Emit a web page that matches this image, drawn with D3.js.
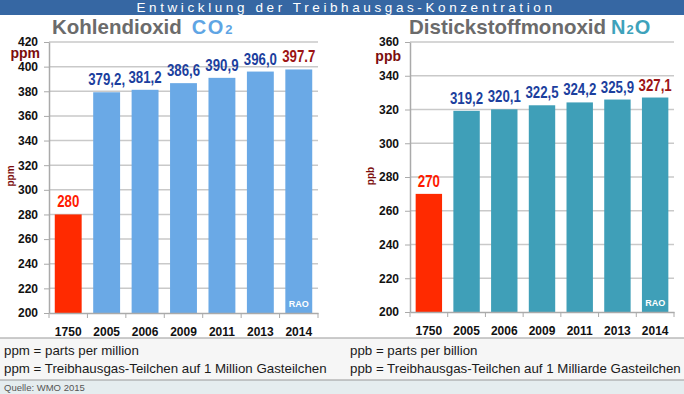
<!DOCTYPE html>
<html>
<head>
<meta charset="utf-8">
<script src="https://cdn.jsdelivr.net/npm/d3@7"></script>
<style>
  html, body { margin: 0; padding: 0; background: #fff; }
  svg { display: block; font-family: "Liberation Sans", Arial, sans-serif; }
</style>
</head>
<body>
<script>
var years = ["1750", "2005", "2006", "2009", "2011", "2013", "2014"];
var co2Values = [280, 379.2, 381.2, 386.6, 390.9, 396.0, 397.7];
var co2Labels = ["280", "379,2,", "381,2", "386,6", "390,9", "396,0", "397.7"];
var co2Ticks = [200, 220, 240, 260, 280, 300, 320, 340, 360, 380, 400, 420];
var n2oValues = [270, 319.2, 320.1, 322.5, 324.2, 325.9, 327.1];
var n2oLabels = ["270", "319,2", "320,1", "322,5", "324,2", "325,9", "327,1"];
var n2oTicks = [200, 220, 240, 260, 280, 300, 320, 340, 360];

var w = 684, h = 394;
var svg = d3.select("body").append("svg").attr("width", w).attr("height", h);

// header bar
svg.append("rect").attr("x", 0).attr("y", 0).attr("width", w).attr("height", 15).attr("fill", "#3667a3");
svg.append("text").attr("x", w / 2 + 4).attr("y", 12).attr("text-anchor", "middle")
  .attr("fill", "#fff").attr("font-size", 13.5).attr("letter-spacing", 3.6)
  .text("Entwicklung der Treibhausgas-Konzentration");

function drawChart(c) {
  var x = d3.scaleBand().domain(years).range([c.x0, c.x1]).paddingInner(0.3).paddingOuter(0.15);
  var y = d3.scaleLinear().domain(c.domain).range([c.yb, c.yt]);
  var g = svg.append("g");

  // gridlines
  g.selectAll(".grid").data(c.ticks.slice(1)).enter().append("line")
    .attr("x1", c.x0).attr("x2", c.x1)
    .attr("y1", d => y(d)).attr("y2", d => y(d))
    .attr("stroke", "#c9c9c9").attr("stroke-width", 1.5);

  // bars
  g.selectAll(".bar").data(c.values).enter().append("rect")
    .attr("x", (d, i) => x(years[i]))
    .attr("width", x.bandwidth())
    .attr("y", d => y(d))
    .attr("height", d => c.yb - y(d))
    .attr("fill", (d, i) => i == 0 ? "#ff2a00" : c.color);

  // value labels (condensed)
  g.selectAll(".lbl").data(c.labels).enter().append("text")
    .attr("transform", (d, i) => "translate(" + (x(years[i]) + x.bandwidth() / 2) + "," + (y(c.values[i]) - 7) + ") scale(0.78,1)")
    .attr("text-anchor", "middle")
    .attr("font-weight", "bold").attr("font-size", 17)
    .attr("fill", (d, i) => i == 0 ? "#ff1a00" : (i == years.length - 1 ? "#9c1414" : "#1c3f9e"))
    .text(d => d);

  // axes
  var ya = d3.axisLeft(y).tickValues(c.ticks).tickSize(5).tickPadding(6).tickSizeOuter(0);
  var yg = g.append("g").attr("transform", "translate(" + c.x0 + ",0)").call(ya);
  yg.select(".domain").attr("stroke", "#aaa").attr("stroke-width", 1.5);
  yg.selectAll(".tick line").attr("stroke", "#aaa");
  yg.selectAll("text").attr("font-size", 12).attr("font-weight", "bold").attr("fill", "#111")
    .attr("font-family", "'Liberation Sans', Arial, sans-serif");

  var xa = d3.axisBottom(x).tickSize(0).tickPadding(14);
  var xg = g.append("g").attr("transform", "translate(0," + c.yb + ")").call(xa);
  xg.select(".domain").attr("stroke", "#aaa").attr("stroke-width", 1.5);
  xg.selectAll("text").attr("font-size", 12).attr("font-weight", "bold").attr("fill", "#111")
    .attr("font-family", "'Liberation Sans', Arial, sans-serif");
  // band-boundary ticks
  g.selectAll(".bt").data(d3.range(years.length + 1)).enter().append("line")
    .attr("x1", i => c.x0 + i * (c.x1 - c.x0) / years.length)
    .attr("x2", i => c.x0 + i * (c.x1 - c.x0) / years.length)
    .attr("y1", c.yb).attr("y2", c.yb + 5)
    .attr("stroke", "#aaa");

  // unit labels
  g.append("text").attr("x", c.x0 - 9).attr("y", c.unitY).attr("text-anchor", "end")
    .attr("font-size", 14).attr("font-weight", "bold").attr("fill", "#7c0d0d").text(c.unit);
  g.append("text").attr("transform", "translate(" + c.rotX + ",176) rotate(-90)")
    .attr("text-anchor", "middle").attr("font-size", 10).attr("font-weight", "bold")
    .attr("fill", "#7c0d0d").text(c.unit);

  // RAO
  var last = years[years.length - 1];
  g.append("text").attr("x", x(last) + x.bandwidth() / 2).attr("y", c.yb - 6)
    .attr("text-anchor", "middle").attr("font-size", 9).attr("font-weight", "bold")
    .attr("fill", "#fff").text("RAO");

  // title
  var t = g.append("text").attr("x", c.titleX).attr("y", 34).attr("font-size", 20.5).attr("font-weight", "bold");
  t.append("tspan").attr("fill", "#6b6b6b").text(c.title);
  c.formula.forEach(function (p) {
    t.append("tspan").attr("fill", c.titleColor).attr("dx", p.dx || 0)
      .attr("font-size", p.sub ? 13 : 20).text(p.t);
  });
}

drawChart({
  x0: 49, x1: 318, yb: 313, yt: 42, domain: [200, 420], ticks: co2Ticks,
  values: co2Values, labels: co2Labels, color: "#6aa9e6",
  unit: "ppm", unitY: 58, rotX: 14,
  title: "Kohlendioxid", titleX: 52, titleColor: "#5fa5e4",
  formula: [{ t: "C", dx: 10 }, { t: "O", dx: 1.5 }, { t: "2", sub: true, dx: 2 }]
});

drawChart({
  x0: 410, x1: 674, yb: 312, yt: 42, domain: [200, 360], ticks: n2oTicks,
  values: n2oValues, labels: n2oLabels, color: "#3f9fb8",
  unit: "ppb", unitY: 61, rotX: 374,
  title: "Distickstoffmonoxid", titleX: 409, titleColor: "#3ea2bb",
  formula: [{ t: "N", dx: 5 }, { t: "2", sub: true, dx: 1 }, { t: "O", dx: 1 }]
});

// footnotes
svg.append("rect").attr("x", 0).attr("y", 338).attr("width", w).attr("height", 42).attr("fill", "#f6f6f6");
svg.append("line").attr("x1", 0).attr("x2", w).attr("y1", 338).attr("y2", 338).attr("stroke", "#999");
svg.append("rect").attr("x", 0).attr("y", 380).attr("width", w).attr("height", 14).attr("fill", "#e5edef");
svg.append("line").attr("x1", 0).attr("x2", w).attr("y1", 380).attr("y2", 380).attr("stroke", "#999");

var notesLeft = ["ppm = parts per million", "ppm = Treibhausgas-Teilchen auf 1 Million Gasteilchen"];
var notesRight = ["ppb = parts per billion", "ppb = Treibhausgas-Teilchen auf 1 Milliarde Gasteilchen"];
[[notesLeft, 4], [notesRight, 350]].forEach(function (n) {
  svg.selectAll(null).data(n[0]).enter().append("text")
    .attr("x", n[1]).attr("y", (d, i) => 355 + i * 18)
    .attr("font-size", 13.3).attr("fill", "#1a1a1a").text(d => d);
});
svg.append("text").attr("x", 4).attr("y", 391).attr("font-size", 9.5).attr("fill", "#555").text("Quelle: WMO 2015");
</script>
</body>
</html>
